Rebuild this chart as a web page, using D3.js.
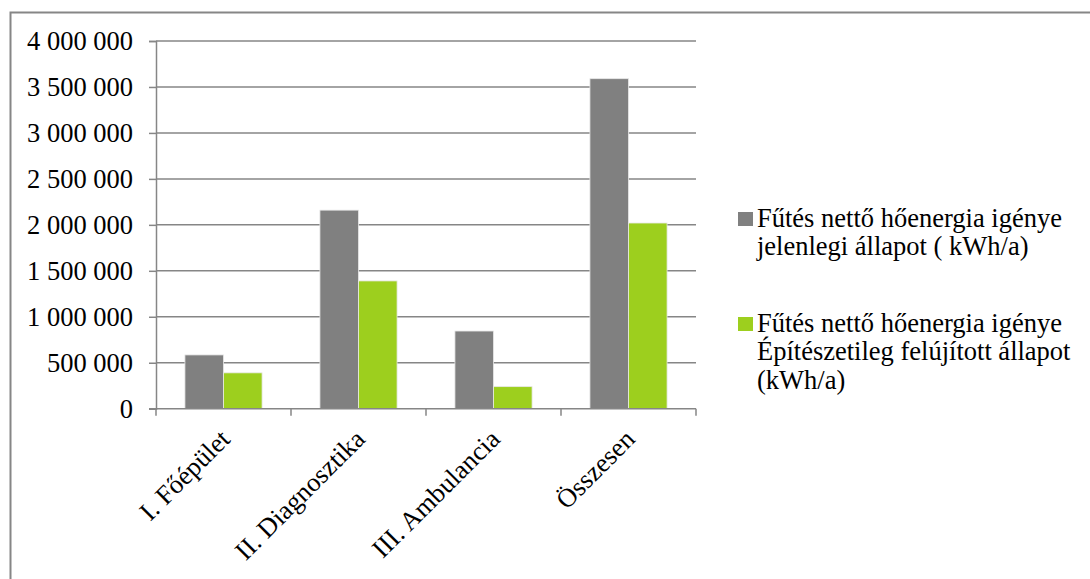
<!DOCTYPE html>
<html>
<head>
<meta charset="utf-8">
<script src="https://cdn.jsdelivr.net/npm/d3@7/dist/d3.min.js"></script>
<style>
  html, body { margin: 0; padding: 0; background: #fff; }
  svg { display: block; }
  text { font-family: "Liberation Serif", "Times New Roman", serif; fill: #000; }
</style>
</head>
<body>
<svg id="chart" width="1090" height="579"></svg>
<script>
// Heating net energy demand per building, current vs. renovated state (kWh/a)
const categories = ["I. Főépület", "II. Diagnosztika", "III. Ambulancia", "Összesen"];
const seriesNames = [
  ["Fűtés nettő hőenergia igénye", "jelenlegi állapot ( kWh/a)"],
  ["Fűtés nettő hőenergia igénye", "Építészetileg felújított állapot", "(kWh/a)"]
];
const currentState = [585000, 2160000, 845000, 3590000];
const renovatedState = [390000, 1390000, 240000, 2020000];
const yTicks = [0, 500000, 1000000, 1500000, 2000000, 2500000, 3000000, 3500000, 4000000];
const seriesColors = ["#808080", "#9dcf1e"];

const svg = d3.select("#chart");
const axisColor = "#868686";
const serif = '"Liberation Serif", "Times New Roman", serif';
const fontSize = 26.5;

// outer chart frame
svg.append("rect")
  .attr("x", 10.5).attr("y", 12.5)
  .attr("width", 1200).attr("height", 700)
  .attr("fill", "none").attr("stroke", axisColor).attr("stroke-width", 2);

const plot = { left: 156, right: 696, top: 41, bottom: 408.7 };

const x = d3.scaleBand().domain(categories).range([plot.left, plot.right]).padding(0);
const xs = d3.scaleBand().domain([0, 1]).range([0, x.bandwidth()]).paddingInner(0).paddingOuter(0.75);
const y = d3.scaleLinear().domain([0, 4000000]).range([plot.bottom, plot.top]);

const fmt = v => d3.format(",")(v).replace(/,/g, " ");

// horizontal gridlines
svg.append("g").selectAll("line").data(yTicks.filter(d => d > 0)).join("line")
  .attr("x1", plot.left).attr("x2", plot.right)
  .attr("y1", d => y(d)).attr("y2", d => y(d))
  .attr("stroke", axisColor).attr("stroke-width", 1.5);

// value axis
const yAxis = svg.append("g").attr("transform", `translate(${plot.left},0)`)
  .call(d3.axisLeft(y).tickValues(yTicks).tickFormat(fmt).tickSize(7).tickPadding(16))
  .attr("font-family", serif);
yAxis.select(".domain").attr("stroke", axisColor).attr("stroke-width", 1.5);
yAxis.selectAll(".tick line").attr("stroke", axisColor).attr("stroke-width", 1.5);
yAxis.selectAll(".tick text")
  .style("font-family", serif)
  .style("font-size", fontSize + "px").attr("fill", "#000");

// bars
const data = categories.map((c, i) => ({ c, vals: [currentState[i], renovatedState[i]] }));
const groups = svg.append("g").selectAll("g").data(data).join("g")
  .attr("transform", d => `translate(${x(d.c)},0)`);
groups.selectAll("rect").data(d => d.vals.map((v, k) => ({ v, k }))).join("rect")
  .attr("x", d => xs(d.k))
  .attr("width", xs.bandwidth())
  .attr("y", d => y(d.v))
  .attr("height", d => y(0) - y(d.v))
  .attr("fill", d => seriesColors[d.k])
  .attr("stroke", "#e8e8e8").attr("stroke-width", 0.8);

// category axis
const xAxis = svg.append("g").attr("transform", `translate(0,${plot.bottom})`);
xAxis.append("line")
  .attr("x1", plot.left - 7).attr("x2", plot.right)
  .attr("stroke", axisColor).attr("stroke-width", 1.5);
const bounds = categories.map(c => x(c)).concat([plot.right]);
xAxis.selectAll("line.tk").data(bounds).join("line").attr("class", "tk")
  .attr("x1", d => d).attr("x2", d => d).attr("y1", 0).attr("y2", 7)
  .attr("stroke", axisColor).attr("stroke-width", 1.5);
xAxis.selectAll("text").data(categories).join("text")
  .attr("transform", d => `translate(${x(d) + x.bandwidth() / 2 + 8},${32}) rotate(-45)`)
  .attr("text-anchor", "end")
  .style("font-family", serif)
  .style("font-size", fontSize + "px")
  .text(d => d);

// legend
const legend = svg.append("g");
const legendRows = [
  { k: 0, top: 227 },
  { k: 1, top: 332 }
];
legendRows.forEach(r => {
  const g = legend.append("g");
  g.append("rect").attr("x", 738).attr("y", r.top - 15).attr("width", 15).attr("height", 14)
    .attr("fill", seriesColors[r.k]);
  const t = g.append("text").attr("x", 757).attr("y", r.top)
    .style("font-family", serif).style("font-size", fontSize + "px");
  seriesNames[r.k].forEach((line, i) => {
    t.append("tspan").attr("x", 757).attr("y", r.top + i * 28.3).text(line);
  });
});
</script>
</body>
</html>
